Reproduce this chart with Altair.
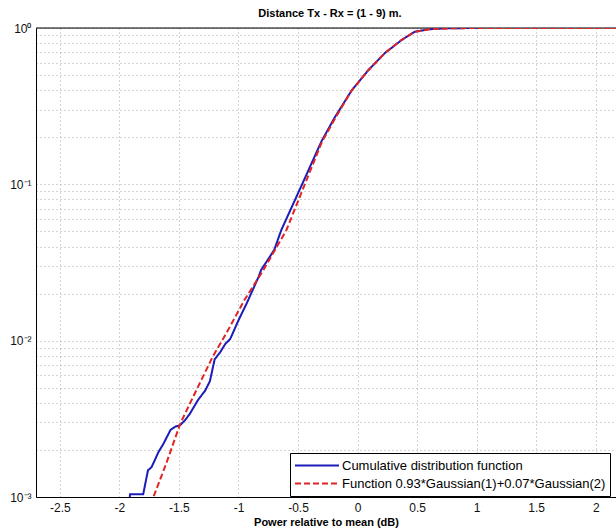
import altair as alt
import pandas as pd

TITLE = "Distance Tx - Rx = (1 - 9) m."
X_TITLE = "Power relative to mean (dB)"
SERIES = [
    "Cumulative distribution function",
    "Function 0.93*Gaussian(1)+0.07*Gaussian(2)",
]
COLORS = ["#1c1cb8", "#e02424"]
DASHES = [[1, 0], [6, 3]]

# Empirical CDF of received power (dB relative to mean)
cdf_x = [-1.92, -1.91, -1.80, -1.76, -1.73, -1.67, -1.63, -1.57, -1.53, -1.49,
         -1.45, -1.41, -1.34, -1.28, -1.24, -1.20, -1.15, -1.11, -1.07, -1.00,
         -0.93, -0.83, -0.81, -0.70, -0.64, -0.46, -0.30, -0.19, -0.05, 0.09,
         0.23, 0.37, 0.48, 0.60, 0.75, 1.00]
cdf_y = [0.00089, 0.00104, 0.00104, 0.00148, 0.00155, 0.00195, 0.00219, 0.00269,
         0.00282, 0.00288, 0.00309, 0.00339, 0.00417, 0.00479, 0.00550, 0.00759,
         0.00851, 0.00955, 0.01023, 0.01349, 0.01738, 0.02570, 0.02831, 0.03802,
         0.05105, 0.1023, 0.1905, 0.2692, 0.3981, 0.5370, 0.6918, 0.8375, 0.9462,
         0.9817, 0.9954, 1.0]

# Fitted two-Gaussian mixture
fit_x = [-1.73, -1.714, -1.605, -1.487, -1.353, -1.218, -1.101, -0.950, -0.790,
         -0.597, -0.445, -0.30, -0.19, -0.05, 0.09, 0.23, 0.37, 0.48, 0.60, 0.80,
         1.20, 2.20]
fit_y = [0.00089, 0.00100, 0.00165, 0.00297, 0.00483, 0.00785, 0.01119, 0.01820,
         0.02831, 0.05105, 0.0991, 0.1862, 0.2630, 0.3981, 0.5370, 0.6918,
         0.8414, 0.9441, 0.9817, 0.9977, 1.0, 1.0]

x_ticks = [-2.5, -2, -1.5, -1, -0.5, 0, 0.5, 1, 1.5, 2]
y_grid = [0.001, 0.002, 0.003, 0.004, 0.005, 0.006, 0.007, 0.008, 0.009,
          0.01, 0.02, 0.03, 0.04, 0.05, 0.06, 0.07, 0.08, 0.09,
          0.1, 0.2, 0.3, 0.4, 0.5, 0.6, 0.7, 0.8, 0.9, 1.0]

df = pd.concat([
    pd.DataFrame({"x": cdf_x, "y": cdf_y, "series": SERIES[0]}),
    pd.DataFrame({"x": fit_x, "y": fit_y, "series": SERIES[1]}),
])

FONT = "Liberation Sans"
GRID_COLOR = "#a8a8a8"
GRID_DASH = [1, 3]

x_enc = alt.X(
    "x:Q",
    scale=alt.Scale(domain=[-2.7, 2.17], nice=False, zero=False),
    axis=alt.Axis(
        values=x_ticks, title=X_TITLE, labelExpr="'' + datum.value",
        grid=True, gridDash=GRID_DASH, gridColor=GRID_COLOR,
        domainColor="#000000", ticks=False, labelPadding=5,
        labelFont=FONT, labelFontSize=12, labelColor="#111111",
        titleFont=FONT, titleFontSize=11, titleFontWeight="bold",
        titlePadding=3, titleColor="#000000",
    ),
)

y_label = (
    "abs(datum.value - 1) < 1e-9 ? '10⁰' : "
    "abs(datum.value - 0.1) < 1e-9 ? '10⁻¹' : "
    "abs(datum.value - 0.01) < 1e-9 ? '10⁻²' : "
    "abs(datum.value - 0.001) < 1e-9 ? '10⁻³' : ''"
)

y_enc = alt.Y(
    "y:Q",
    scale=alt.Scale(type="log", domain=[0.001, 1], nice=False),
    axis=alt.Axis(
        values=y_grid, title=None, labelExpr=y_label,
        grid=True, gridDash=GRID_DASH, gridColor=GRID_COLOR,
        domainColor="#000000", ticks=False, labelPadding=5,
        labelFont=FONT, labelFontSize=12, labelColor="#111111",
        labelOverlap=False,
    ),
)

legend = alt.Legend(
    orient="none", legendX=254, legendY=425, title=None,
    symbolType="stroke", symbolSize=1936, symbolStrokeWidth=2,
    labelFont=FONT, labelFontSize=13, labelColor="#000000",
    labelLimit=400, labelOffset=2, padding=4, rowPadding=1,
    clipHeight=17, strokeColor="#000000", fillColor="#ffffff",
    cornerRadius=0,
)

lines = alt.Chart(df).mark_line(strokeWidth=2, clip=True).encode(
    x=x_enc,
    y=y_enc,
    color=alt.Color("series:N", scale=alt.Scale(domain=SERIES, range=COLORS),
                    legend=legend),
    strokeDash=alt.StrokeDash("series:N",
                              scale=alt.Scale(domain=SERIES, range=DASHES),
                              legend=legend),
)

# top edge of the axes box
top_edge = alt.Chart(pd.DataFrame({"y": [1.0]})).mark_rule(
    color="#000000", strokeWidth=1
).encode(y=alt.Y("y:Q"))

chart = alt.layer(top_edge, lines).properties(
    width=580, height=469,
    title=alt.TitleParams(TITLE, font=FONT, fontSize=11, fontWeight="bold",
                          offset=3, anchor="middle", dx=4, color="#000000"),
    padding={"left": 36, "top": 28, "right": 0, "bottom": 35},
    autosize=alt.AutoSizeParams(type="none"),
).configure_view(stroke=None).configure(background="#ffffff")

chart.save("out.html", embed_options={"renderer": "svg", "actions": False})
